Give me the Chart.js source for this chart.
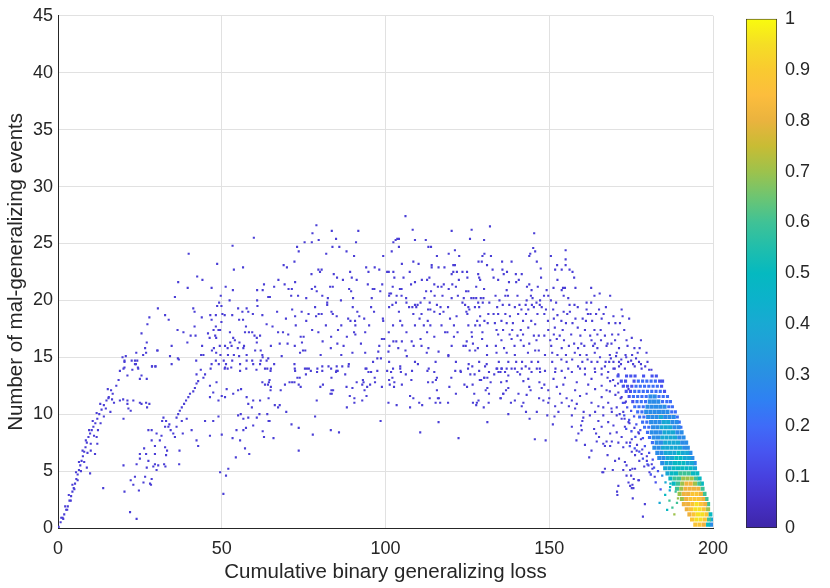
<!DOCTYPE html>
<html>
<head>
<meta charset="utf-8">
<script src="https://cdn.jsdelivr.net/npm/chart.js@4.4.1/dist/chart.umd.min.js"></script>
<style>
  html, body { margin: 0; padding: 0; background: #fff; }
  #wrap { position: relative; width: 830px; height: 588px; }
  #plot { position: absolute; left: 0; top: 0; }
  #cbar { position: absolute; left: 740px; top: 0; }
</style>
</head>
<body>
<div id="wrap">
  <canvas id="plot" width="830" height="588" style="width:830px;height:588px"></canvas>
  <canvas id="cbar" width="90" height="588" style="width:90px;height:588px"></canvas>
</div>
<script>
/* Density scatter: mal-generalizing events vs cumulative loss */

// eixos e textos
const xTickValues = [0, 50, 100, 150, 200];
const yTickValues = [0, 5, 10, 15, 20, 25, 30, 35, 40, 45];
const colorbarTicks = [0, 0.1, 0.2, 0.3, 0.4, 0.5, 0.6, 0.7, 0.8, 0.9, 1];
const xTitle = 'Cumulative binary generalizing loss';
const yTitle = 'Number of mal-generalizing events';

// density levels (0 = sparse dots ... 10 = densest)
const levelColors = ['#4a3ed6', '#4752ee', '#3d6ef8', '#2b8ce8', '#17a8d4', '#08b8c2',
                     '#3dc296', '#9dc24c', '#f0b23e', '#fbc434', '#f6e022'];
const colorbarStops = [0, 0.05, 0.1, 0.15, 0.2, 0.25, 0.3, 0.35, 0.4, 0.45, 0.5,
                       0.55, 0.6, 0.65, 0.7, 0.75, 0.8, 0.85, 0.9, 0.95, 1];
const colorbarColors = ['#3e26a8', '#4530c6', '#4741df', '#4755f0', '#3f6bf8', '#2f80f3',
                        '#2a8fe4', '#229dda', '#19a9d3', '#0cb2cb', '#05b9c0', '#20beac',
                        '#3fc296', '#6dc572', '#9dc24c', '#c8bc34', '#eab33e', '#fcbd3d',
                        '#f9ca30', '#f5de25', '#f9fb0e'];

// sparse dots, steep rise near the origin
const dotsRise = [
  [0.2,0.1],[0.8,0.5],[1.4,0.9],[1.9,1.2],[2.5,1.6],[3.0,1.9],[3.5,2.4],[4.0,2.8],[4.4,3.2],[4.8,3.5],
  [5.2,3.9],[5.6,4.3],[6.0,4.7],[6.4,5.1],[6.8,5.5],[7.2,5.9],[7.6,6.3],[8.0,6.7],[8.4,7.1],[8.8,7.5],
  [9.3,8.0],[9.8,8.3],[10.3,8.6],[10.8,8.9],[11.4,9.2],[12.0,9.6],[12.6,10.0],[13.3,10.4],[14.0,10.8],
  [14.8,11.2],[15.5,11.5],[1.0,0.9],[2.2,1.9],[3.3,2.9],[4.4,3.8],[5.5,4.9],[6.4,5.8],[7.5,6.8],[8.5,7.7],
  [9.5,8.6],[10.6,9.4],[11.8,10.1],[12.9,10.9],[1.6,0.8],[2.8,1.6],[3.9,2.4],[5.0,3.4],[6.0,4.2],[7.0,5.0],
  [8.0,5.8],[9.0,6.6],[10.0,7.4],[11.0,8.1],[12.2,8.6],[13.0,9.2],[9.8,4.8],[8.8,5.3],[11.3,6.5],[10.0,6.8],
  [12.0,7.4],[13.8,3.5],[11.8,8.0],[15.2,12.2],[16.2,12.1],[16.7,11.8],[15.4,11.4],[16.5,11.3],[17.1,11.0],
  [18.9,11.2],[19.9,11.3],[21.2,11.2],[23.0,11.2],[21.5,10.5],[21.2,10.9],[22.2,10.3],[20.0,9.6],[25.0,11.0],
  [25.5,10.9],[26.9,11.0],[27.9,10.9],[27.2,10.6],[14.0,9.8],[14.6,10.5],[16.0,10.2],[17.8,12.5],[18.5,13.0],
  [19.7,15.0],[20.3,14.6],[20.3,14.1],[21.2,13.4],[18.9,13.8],[22.5,14.7],[23.5,14.4],[24.4,14.1],[25.5,13.4],
  [25.0,13.1],[24.2,14.7],[26.9,15.4],[27.1,13.1],[28.7,14.2],[29.7,14.2],[30.3,15.6]
];

// sparse dots, x 20-66
const dotsLeft = [
  [59.8,25.5],[53.3,24.8],[39.9,24.1],[48.6,23.2],[53.7,22.7],[56.5,22.9],[42.5,22.1],[44.1,21.8],[36.7,21.6],
  [39.6,21.1],[46.9,21.1],[51.2,21.2],[62.9,21.4],[66.0,21.2],[53.4,20.9],[60.8,20.9],[62.5,20.9],[49.7,20.4],
  [64.2,20.3],[64.7,20.3],[35.7,20.3],[52.4,20.0],[60.8,20.0],[49.2,19.8],[48.6,19.5],[49.9,19.5],[60.9,19.5],
  [30.5,19.3],[41.3,19.3],[41.7,19.0],[50.2,18.8],[55.0,19.3],[56.3,19.0],[57.6,19.3],[58.1,19.0],[59.5,18.8],
  [46.5,18.7],[48.2,18.7],[50.9,18.7],[53.2,18.7],[62.4,18.7],[27.9,18.5],[32.7,18.7],[33.8,18.3],[43.9,18.5],
  [46.9,18.3],[55.3,18.3],[56.5,18.3],[49.9,18.1],[27.3,17.9],[63.7,17.9],[49.0,17.4],[41.7,17.7],[48.2,17.7],
  [47.5,17.4],[49.5,17.4],[36.5,17.4],[38.3,17.2],[52.5,17.2],[57.4,17.7],[57.1,17.2],[58.3,17.2],[59.3,17.2],
  [25.5,17.1],[45.8,17.1],[40.5,16.9],[42.0,16.9],[48.0,16.9],[60.0,16.9],[60.7,16.7],[61.7,16.9],[65.5,17.7],
  [46.3,16.7],[48.3,16.7],[53.5,16.7],[54.0,16.5],[52.6,16.3],[55.4,16.3],[39.5,16.3],[27.1,16.3],[60.7,16.3],
  [34.7,16.0],[44.0,16.0],[51.0,16.0],[49.4,16.0],[51.8,15.8],[53.0,16.0],[56.8,16.0],[54.9,15.8],[56.6,15.8],
  [65.0,16.0],[23.9,15.4],[26.6,15.8],[30.4,15.6],[47.6,15.8],[60.2,15.6],[61.9,15.6],[47.0,15.6],[43.7,15.2],
  [44.4,15.2],[48.3,15.4],[26.0,15.2],[34.2,15.1],[20.7,15.1],[36.6,14.9],[36.9,14.8],[49.6,15.2],[51.9,15.2],
  [53.7,15.2],[55.3,15.1],[57.6,15.2],[62.4,15.2],[64.2,14.9],[20.3,14.7],[23.5,14.7],[23.8,14.4],[34.7,14.4],
  [42.2,14.7],[48.2,14.7],[50.6,14.7],[53.2,14.7],[46.9,14.4],[49.1,14.4],[51.3,14.4],[55.6,14.4],[59.3,14.7],
  [61.9,14.7],[63.7,14.7],[66.0,14.4],[20.0,14.0],[22.7,13.9],[24.5,14.0],[28.7,14.2],[29.8,14.2],[43.6,13.9],
  [46.6,14.0],[50.9,14.0],[51.8,14.0],[57.5,14.0],[60.6,13.9],[63.2,14.0],
  [20.0,5.5],[20.3,3.2],[22.0,1.4],[24.0,0.8],[22.2,4.2],[23.5,4.5],[23.0,3.8],[24.7,3.3],[24.0,5.6],[25.0,6.1],
  [25.0,6.5],[26.3,7.0],[26.9,6.5],[27.6,5.9],[26.1,4.0],[26.6,4.5],[27.1,5.3],[28.1,3.9],[28.4,3.8],[28.6,4.3],
  [29.1,5.4],[29.6,6.5],[29.6,5.6],[30.1,5.1],[30.6,5.5],[29.6,7.2],[28.6,7.7],[30.1,8.3],[28.6,8.6],[27.6,8.6],
  [31.1,7.7],[31.6,8.1],[32.7,8.9],[31.8,9.4],[32.2,9.7],[33.0,9.4],[32.7,7.1],[33.0,6.4],[33.3,6.8],[32.8,5.4],
  [32.4,5.6],[35.7,8.0],[34.4,8.6],[35.2,8.3],[33.7,8.9],[34.0,9.1],[36.2,9.7],[36.7,10.0],[37.2,10.3],[37.8,10.6],
  [38.5,10.9],[39.1,11.2],[39.8,11.5],[40.3,11.8],[41.3,12.0],[41.8,12.3],[42.3,12.7],[42.8,12.9],[44.4,13.2],
  [44.9,13.5],[42.3,13.5],[37.0,5.6],[37.1,6.8],[36.2,8.9],[37.8,9.4],[38.1,8.3],[39.3,9.6],[40.8,8.6],[42.3,7.7],
  [42.8,7.2],[44.9,9.4],[46.4,8.1],[47.4,9.4],[49.0,9.8],[50.0,8.2],[49.5,4.9],[51.3,4.6],[50.5,3.0],[52.0,5.2],
  [53.3,7.9],[54.5,8.6],[55.6,7.7],[56.6,8.6],[58.4,6.5],[57.1,7.0],[54.3,6.2],[55.0,9.9],[55.8,10.0],[56.6,9.6],
  [57.4,8.8],[58.1,9.7],[59.2,10.6],[59.6,9.0],[60.7,9.7],[61.5,10.0],[62.5,8.5],[62.9,8.0],[64.3,9.4],[49.0,11.2],
  [50.0,11.6],[47.4,11.9],[46.4,11.5],[51.0,11.5],[51.5,12.2],[53.5,11.8],[55.0,12.1],[55.9,12.2],[57.6,11.5],
  [58.1,10.9],[59.6,11.2],[61.7,11.2],[62.4,12.8],[64.1,12.6],[46.4,12.5],[48.4,12.8],[51.0,14.1],[52.9,14.1],
  [55.6,13.8],[57.6,14.7],[59.6,14.4],[61.7,14.4],[62.5,15.0],[63.9,14.0]
];

// sparse dots, x 63-136
const dotsMiddle = [
  [106.1,27.4],[78.9,26.6],[77.7,25.9],[83.6,26.1],[91.7,26.1],[108.3,26.2],[120.2,26.1],[126.3,26.2],[131.9,26.5],
  [75.3,25.1],[77.5,25.1],[79.6,25.3],[84.9,25.4],[91.0,25.1],[102.4,25.1],[103.1,25.3],[103.6,25.4],[104.1,25.4],
  [109.0,25.3],[112.3,25.3],[125.8,25.4],[130.1,25.3],[73.0,24.7],[83.8,24.7],[85.9,24.7],[104.1,24.7],[113.1,24.7],
  [113.9,24.7],[73.5,24.3],[88.1,24.3],[101.9,24.3],[121.2,24.4],[81.9,24.1],[90.4,23.9],[99.3,23.9],[115.7,23.9],
  [119.3,24.1],[122.5,23.9],[129.6,23.9],[130.2,24.1],[132.2,23.9],[72.2,23.4],[108.5,23.4],[128.4,23.4],[129.4,23.4],
  [68.9,23.1],[69.9,22.9],[131.0,23.1],[105.0,23.2],[110.1,23.2],[114.1,23.1],[114.1,22.9],[116.2,22.9],[118.0,22.9],
  [120.7,23.1],[121.2,23.1],[79.5,22.7],[80.5,22.7],[94.1,22.9],[96.7,22.9],[98.1,22.7],[132.7,22.7],[77.4,22.3],
  [80.0,22.5],[84.2,22.3],[85.2,22.0],[89.2,22.5],[94.8,22.5],[100.5,22.5],[101.0,22.5],[102.4,22.5],[107.4,22.5],
  [113.4,22.0],[120.2,22.3],[120.7,22.5],[121.8,22.5],[123.5,22.5],[124.9,22.5],[128.3,22.3],[128.6,22.0],[133.0,22.0],
  [67.3,21.8],[72.4,21.6],[87.0,21.8],[89.7,22.0],[91.2,21.8],[102.7,22.0],[105.5,22.0],[109.0,21.6],[111.1,21.8],
  [112.7,21.8],[114.9,21.4],[117.8,21.4],[122.4,21.8],[125.0,22.0],[128.9,21.8],[69.2,21.4],[83.1,21.2],[83.9,21.2],
  [88.9,21.0],[94.6,21.4],[99.0,21.4],[102.2,21.2],[107.8,21.4],[116.0,21.2],[117.1,21.2],[120.4,21.4],[121.5,21.2],
  [127.7,21.2],[70.4,21.0],[71.4,21.0],[77.5,21.0],[78.5,21.2],[96.1,21.0],[96.6,21.0],[104.4,21.0],[104.9,21.0],
  [119.3,21.0],[125.3,20.8],[130.1,21.0],[79.0,20.8],[89.5,20.8],[98.4,20.8],[101.2,20.6],[101.7,20.6],[112.4,20.8],
  [113.9,20.8],[124.6,20.8],[71.2,20.4],[73.3,20.4],[75.8,20.2],[80.7,20.4],[82.4,20.2],[90.1,20.2],[95.8,20.2],
  [101.1,20.4],[103.4,20.4],[104.9,20.4],[106.3,20.2],[111.9,20.2],[115.0,20.4],[117.4,20.4],[120.2,20.2],[122.1,20.4],
  [123.9,20.2],[126.2,20.2],[126.9,20.2],[127.7,20.2],[129.1,20.2],[129.9,20.2],[86.4,20.0],[82.2,19.8],[82.2,19.6],
  [102.1,19.6],[103.2,19.8],[106.4,19.8],[109.0,19.6],[109.8,19.6],[110.7,19.8],[113.5,19.8],[115.7,19.6],[123.5,19.8],
  [124.3,19.6],[128.3,19.8],[129.7,19.8],[131.7,19.8],[78.5,19.4],[90.0,19.4],[95.6,19.4],[101.1,19.4],[107.2,19.4],
  [108.2,19.4],[109.4,19.4],[116.8,19.4],[119.1,19.4],[125.3,19.4],[127.3,19.4],[128.6,19.4],[71.5,19.2],[74.4,19.0],
  [91.4,19.0],[96.5,19.0],[113.0,19.2],[113.7,19.2],[114.9,19.0],[117.7,19.0],[124.7,19.0],[125.6,19.2],[66.9,19.0],
  [76.5,18.8],[83.5,19.0],[83.9,18.8],[78.8,18.6],[79.6,18.8],[80.5,18.8],[85.1,18.6],[88.6,18.4],[90.7,18.2],
  [92.0,18.6],[93.5,18.4],[99.2,18.4],[104.1,19.0],[108.5,18.8],[111.0,18.8],[116.6,18.8],[119.7,18.4],[121.7,18.6],
  [125.0,18.8],[128.9,18.6],[131.4,18.8],[133.0,18.8],[72.4,18.6],[69.6,18.4],[75.8,18.2],[89.3,18.2],[99.3,18.2],
  [104.5,18.2],[110.4,18.4],[112.9,18.2],[128.0,18.2],[130.2,18.2],[131.2,18.0],[72.6,17.8],[81.8,17.8],[86.5,17.8],
  [90.8,17.8],[95.0,17.8],[102.3,17.8],[105.1,17.8],[109.0,17.8],[111.7,17.8],[113.7,17.8],[117.1,17.8],[120.9,17.8],
  [125.3,17.8],[127.4,17.8],[128.8,17.8],[133.4,18.0],[67.2,17.2],[68.7,17.2],[77.6,17.4],[79.5,17.2],[85.5,17.4],
  [90.4,17.2],[90.8,17.0],[93.8,17.2],[101.0,17.2],[106.4,17.2],[112.7,17.2],[118.2,17.2],[118.9,17.2],[122.0,17.2],
  [126.3,17.2],[129.6,17.2],[70.3,17.0],[74.1,16.8],[75.0,16.8],[83.4,16.8],[88.2,16.8],[98.9,16.6],[99.6,16.6],
  [102.4,16.4],[103.3,16.4],[105.0,16.4],[108.0,16.4],[110.7,16.6],[114.9,16.8],[120.9,16.8],[124.8,16.4],[126.4,16.8],
  [129.5,16.6],[67.7,16.2],[70.1,16.2],[72.3,16.0],[74.5,16.3],[80.8,16.4],[85.3,16.2],[87.2,16.0],[92.5,16.2],
  [98.1,16.0],[101.2,16.0],[103.9,15.8],[108.6,16.0],[111.0,16.0],[113.1,15.8],[120.2,16.0],[123.8,16.0],[124.5,16.0],
  [126.7,16.2],[128.2,15.8],[131.0,16.0],[73.9,15.4],[74.8,15.6],[75.5,15.6],[83.3,15.8],[89.9,15.4],[93.8,15.4],
  [97.8,15.5],[100.9,15.5],[106.1,15.6],[112.6,15.4],[116.2,15.5],[119.2,15.2],[125.7,15.6],[127.4,15.6],[131.0,15.2],
  [68.3,15.1],[80.2,15.2],[86.5,15.2],[96.2,14.6],[97.5,14.9],[98.6,14.9],[106.5,15.1],[109.0,14.6],[72.2,14.4],
  [76.0,14.0],[80.7,14.2],[85.1,14.2],[88.8,14.4],[94.2,14.0],[101.1,14.6],[104.5,14.2],[109.9,14.4],[115.3,14.6],
  [119.2,15.1],[121.5,14.6],[125.4,14.4],[128.6,14.6],[130.9,14.4],
  [65.0,14.0],[64.9,13.8],[72.3,14.0],[72.4,13.8],[75.4,14.0],[76.6,14.0],[77.2,13.8],[79.2,14.0],[79.1,13.7],
  [80.7,13.8],[82.6,14.2],[83.4,14.0],[85.0,13.8],[85.4,13.8],[84.9,13.7],[86.8,14.2],[88.7,14.2],[93.9,14.0],
  [94.8,13.7],[95.6,13.7],[97.5,13.8],[100.5,13.8],[102.3,14.0],[104.5,14.0],[104.7,13.7],[108.1,13.8],[112.8,13.8],
  [113.2,14.0],[114.9,13.7],[121.3,13.8],[122.9,13.8],[123.0,13.7],[125.2,14.0],[126.5,14.2],[128.6,13.8],[130.4,14.2],
  [131.6,13.7],[134.1,14.0],[135.1,13.7],[75.7,13.5],[83.5,13.2],[87.7,13.5],[96.7,13.2],[101.7,13.7],[106.2,13.5],
  [115.7,13.2],[120.1,13.2],[125.9,13.5],[127.2,13.5],[130.1,13.2],[131.1,13.2],[133.2,13.5],[64.6,13.0],[70.7,12.8],
  [71.5,12.8],[72.2,12.8],[73.1,13.2],[73.8,13.2],[73.5,12.6],[74.1,12.4],[80.1,12.4],[80.9,12.6],[91.2,12.8],
  [93.1,13.0],[93.3,12.8],[92.9,12.6],[95.3,12.6],[94.4,12.4],[96.8,12.8],[98.9,12.4],[101.1,13.0],[102.7,12.8],
  [102.1,13.2],[101.3,12.6],[102.6,12.4],[105.0,12.6],[107.9,13.0],[113.0,12.8],[114.4,12.8],[115.4,13.0],[119.5,12.4],
  [124.1,12.6],[124.9,12.4],[126.6,12.6],[128.8,13.0],[129.2,13.0],[130.2,13.2],[132.1,12.8],[135.3,12.8],[64.4,12.8],
  [63.2,12.6],[69.3,12.6],[65.0,12.4],[68.0,12.1],[64.9,12.1],[83.5,12.1],[84.0,12.1],[83.2,11.8],[83.6,11.8],
  [88.1,12.4],[89.9,12.3],[90.5,11.4],[89.1,11.6],[90.5,11.0],[88.2,10.6],[93.6,12.1],[94.2,11.6],[92.9,11.2],
  [64.3,11.4],[66.2,10.8],[67.7,10.8],[67.2,10.6],[69.7,10.2],[63.9,10.0],[79.0,11.2],[78.5,9.8],[64.6,9.4],
  [71.3,9.1],[73.5,8.8],[65.8,7.9],[77.8,8.2],[83.3,8.6],[85.8,8.4],[73.5,6.8],[98.5,9.4],[100.9,11.0],[103.4,10.8],
  [107.5,11.6],[108.5,11.4],[107.5,10.6],[110.3,11.0],[111.2,10.8],[113.5,11.4],[115.3,11.0],[116.0,11.4],[116.3,11.4],
  [116.7,11.0],[119.1,11.0],[115.7,12.1],[121.5,11.8],[127.1,11.8],[126.7,11.0],[127.9,11.0],[127.7,10.8],[128.4,11.2],
  [130.0,10.6],[131.5,11.0],[130.6,12.1],[131.6,11.8],[131.1,12.3],[135.1,11.4],[135.9,11.8],[116.2,9.3],[110.6,8.4],
  [122.3,7.9],[131.1,9.3]
];

// sparse dots, x 133-183
const dotsRight = [
  [145.4,25.9],[145.1,24.6],[145.7,24.3],[144.2,24.1],[143.9,23.9],[155.0,24.4],[150.5,23.9],[155.0,23.6],[146.2,23.4],
  [135.6,23.4],[138.5,23.4],[155.0,23.1],[152.4,23.1],[147.4,22.8],[153.8,22.7],[151.8,22.7],[156.2,22.7],[157.1,22.5],
  [135.7,22.7],[137.1,22.5],[136.1,22.3],[139.8,22.3],[141.6,22.3],[134.4,21.8],[140.7,21.8],[147.5,22.0],[157.6,22.0],
  [152.5,21.8],[137.7,21.6],[139.9,21.6],[143.9,21.4],[143.2,21.2],[146.5,21.2],[151.3,21.1],[154.2,21.1],[154.8,21.1],
  [158.0,21.1],[162.8,21.1],[144.6,20.9],[149.2,20.9],[137.0,20.9],[153.8,20.9],[136.6,20.4],[137.4,20.4],[140.3,20.4],
  [144.4,20.4],[144.9,20.2],[148.4,20.4],[149.7,20.4],[154.4,20.4],[155.8,20.2],[163.8,20.4],[165.4,20.6],[168.6,20.4],
  [133.6,20.4],[134.8,20.0],[143.1,20.0],[147.2,20.0],[150.5,20.0],[146.1,19.8],[152.1,19.8],[135.8,19.6],[137.8,19.6],
  [140.9,19.6],[142.8,19.6],[144.7,19.6],[147.1,19.6],[156.2,19.6],[157.7,19.6],[158.7,19.4],[161.4,19.8],[162.8,19.8],
  [167.3,19.4],[134.1,19.4],[139.5,19.4],[141.5,19.2],[143.6,19.2],[145.3,19.4],[147.7,19.4],[149.0,19.2],[151.2,19.2],
  [154.4,19.0],[156.3,19.0],[161.4,19.2],[165.2,19.2],[172.1,19.2],[134.4,18.8],[136.6,18.8],[138.0,18.6],[140.5,18.8],
  [142.9,18.8],[146.4,18.8],[148.5,18.8],[152.5,18.7],[155.5,18.8],[158.0,18.4],[160.2,18.4],[161.8,18.8],[162.6,18.8],
  [164.3,18.8],[166.6,18.8],[169.6,18.6],[172.4,18.6],[174.4,18.4],[135.4,18.2],[137.0,18.0],[138.9,18.0],[142.0,18.2],
  [144.5,18.2],[145.7,17.9],[149.6,18.2],[151.4,18.4],[153.7,18.2],[155.1,18.0],[157.1,18.0],[161.2,18.2],[163.1,18.2],
  [166.0,18.4],[168.2,18.0],[170.2,18.0],[171.6,18.0],[133.9,17.4],[135.9,17.4],[138.7,17.4],[141.3,17.4],[143.6,17.6],
  [149.7,17.4],[151.7,17.6],[154.1,17.4],[158.7,17.6],[160.9,17.4],[163.8,17.4],[165.7,17.4],[172.9,17.4],[134.4,17.0],
  [137.9,17.0],[140.3,16.9],[142.0,17.0],[145.3,16.9],[146.8,16.9],[148.5,16.9],[151.4,17.0],[153.2,16.9],[156.7,17.0],
  [159.5,16.9],[162.5,16.9],[164.7,17.0],[167.0,16.9],[169.2,17.0],[171.1,17.0],[135.4,16.5],[138.5,16.6],[141.3,16.5],
  [143.9,16.2],[146.1,16.5],[150.3,16.5],[152.3,16.6],[154.5,16.5],[157.6,16.2],[159.8,16.2],[162.9,16.5],[163.9,16.2],
  [165.8,16.5],[167.8,16.2],[170.1,16.5],[173.6,16.5],[175.2,16.7],[178.0,16.5],[133.7,16.0],[136.2,15.8],[139.4,16.0],
  [142.2,16.0],[145.7,15.6],[146.8,15.6],[150.6,16.0],[153.8,15.8],[156.0,16.0],[158.8,15.8],[160.7,16.0],[163.4,16.0],
  [164.7,15.8],[167.5,16.0],[169.0,16.2],[171.3,15.8],[173.9,16.0],[176.0,15.8],[177.6,15.8],[179.7,15.4],[133.9,15.4],
  [137.0,15.4],[139.5,15.2],[143.5,15.4],[148.7,15.2],[150.9,15.4],[152.5,15.2],[155.1,15.2],[157.8,15.4],[159.4,15.2],
  [161.4,15.2],[163.9,15.4],[168.5,15.2],[170.6,15.4],[173.3,15.2],[175.3,15.2],[177.0,15.4],[134.6,14.6],[137.5,14.6],
  [139.9,14.6],[141.7,14.6],[144.6,14.6],[146.6,14.6],[150.9,14.6],[153.7,14.8],[155.3,14.6],[157.0,14.8],[160.1,14.6],
  [161.7,14.8],[162.9,14.6],[164.7,14.6],[168.3,14.6],[169.6,14.6],[171.3,14.6],[171.9,14.4],[174.1,14.6],[175.6,14.4],
  [177.4,14.6],[180.0,14.6],[135.4,14.0],[138.5,14.0],[142.8,14.2],[143.9,14.0],[147.1,14.0],[151.9,14.0],[155.8,14.0],
  [158.8,14.2],[160.9,14.0],[163.9,14.0],[167.0,14.2],[170.0,14.0],[171.3,14.2],[173.1,14.0],[176.1,14.2],[178.2,14.0],
  [181.2,13.9],
  [133.9,14.0],[135.5,14.0],[137.0,14.0],[134.5,13.7],[136.5,13.7],[137.5,13.4],[137.0,12.9],[137.5,12.3],[136.8,12.1],
  [136.0,11.8],[135.2,11.4],[138.3,11.0],[139.5,14.0],[140.3,13.7],[141.6,14.0],[141.1,13.5],[142.1,12.9],[143.6,13.1],
  [143.9,12.4],[144.3,12.1],[143.1,11.7],[142.1,11.0],[141.6,10.7],[140.6,11.8],[139.5,11.2],[137.5,10.0],[142.9,10.2],
  [144.0,9.6],[146.2,10.2],[145.6,7.8],[148.9,7.7],[144.6,13.7],[146.2,14.0],[147.2,13.7],[148.7,13.8],[147.0,12.8],
  [148.5,12.6],[147.7,12.3],[149.7,12.1],[146.9,11.4],[148.2,11.2],[150.0,11.4],[149.7,11.0],[149.4,9.9],[151.6,9.8],
  [151.1,9.1],[151.3,13.1],[151.8,13.7],[153.8,13.8],[154.8,13.2],[154.3,12.6],[152.3,12.4],[153.3,11.8],[155.3,11.4],
  [153.8,11.0],[152.8,10.2],[151.8,10.7],[156.9,11.2],[156.0,10.7],[157.9,10.5],[156.9,9.9],[156.9,8.9],[158.3,7.7],
  [159.7,9.0],[160.1,9.4],[159.9,8.6],[158.9,8.3],[160.9,7.3],[160.4,9.7],[160.5,10.2],[158.4,10.9],[159.4,11.6],
  [157.9,12.1],[158.4,12.8],[156.9,13.7],[159.4,14.0],[160.9,13.5],[161.9,12.6],[161.4,11.8],[162.9,11.0],[162.4,9.9],
  [164.0,10.2],[163.7,8.7],[164.3,8.3],[162.9,6.8],[162.2,6.2],[164.5,7.6],[166.0,8.9],[165.2,8.0],[166.5,7.4],
  [167.0,7.2],[167.5,7.6],[168.6,7.2],[169.1,7.6],[167.8,6.4],[170.1,5.9],[171.3,6.1],[167.0,5.2],[166.2,4.9],
  [169.4,5.1],[173.1,5.8],[173.6,5.5],[174.7,5.1],[175.4,5.2],[176.2,5.2],[175.0,4.6],[175.8,4.3],[177.4,4.2],
  [174.2,4.0],[175.4,3.8],[175.2,3.5],[175.7,3.5],[171.1,3.7],[170.7,3.2],[175.5,2.6],[179.2,2.1],[178.6,1.0],
  [165.0,9.4],[166.5,9.9],[168.0,9.3],[169.6,9.0],[170.6,8.4],[168.6,8.3],[172.1,8.0],[171.1,7.5],[172.6,7.1],
  [173.6,7.5],[174.7,7.5],[175.2,6.7],[176.2,6.4],[176.7,6.8],[178.2,6.5],[179.8,5.9],[181.3,5.6],[180.3,5.5],
  [181.5,5.2],[177.2,8.4],[178.0,7.8],[165.0,10.7],[166.5,10.6],[166.0,11.5],[168.0,11.0],[169.1,10.2],[170.6,10.6],
  [170.6,9.9],[172.1,9.6],[172.6,10.2],[174.2,9.3],[173.1,8.9],[164.0,12.2],[166.0,12.5],[167.5,12.1],[168.6,12.9],
  [170.1,12.5],[171.1,11.9],[172.1,11.5],[173.1,11.0],[164.0,13.7],[166.0,14.0],[168.0,13.7],[169.6,14.0],[171.1,13.5],
  [162.9,13.1],[165.5,15.0],[167.2,14.6],[168.8,14.9],[170.4,15.1],[172.0,14.8],[173.5,15.0],[175.0,14.7],[176.5,14.9],
  [178.0,14.4],[179.3,14.2],[180.5,13.9],[166.0,13.5],[167.8,13.2],[169.5,13.0],[171.0,12.7],[172.8,12.5],[174.2,12.2],
  [168.5,12.0],[170.2,11.7],[171.8,11.4],[173.4,11.1],[169.0,10.5],[171.5,10.0],[173.0,9.6],[174.5,9.2],[176.0,8.8],
  [177.4,8.3],[175.2,7.8],[176.8,7.3],[178.4,6.9],[179.8,6.3],[177.5,5.9],[179.0,5.4],[180.6,4.9],[182.2,4.5],
  [172.6,5.1],[173.6,4.6],[177.2,4.2],[174.7,3.7],[170.8,2.9],[166.5,4.9]
];

// blue dots left of the dense band
const dotsBandEdge = [
  [172.5,11.0],[173.8,10.6],[175.0,10.3],[172.9,9.9],[174.4,9.5],[175.9,9.8],[176.6,9.1],[173.5,8.7],[175.1,8.5],
  [176.3,8.0],[177.8,8.6],[178.6,7.9],[174.6,7.2],[176.1,7.0],[177.5,6.7],[179.2,7.2],[180.5,6.6],[181.6,6.0],
  [178.6,6.1],[180.0,5.6],[182.0,5.3],[183.2,5.0],[181.0,4.7],[182.5,4.0],[184.0,3.4]
];

// coloured outliers under the band: [x, y, level]
const dotsLowEdge = [
  [184.5,4.6,3],[185.5,4.0,4],[186.8,3.3,4],[185.4,2.9,5],[186.7,2.4,6],[187.6,1.8,6],[188.2,1.2,7],
  [186.0,1.6,5],[187.0,3.9,5],[188.6,3.2,6],[189.3,2.6,7],[183.7,2.2,4],[189.0,2.2,6],[186.9,3.6,5]
];

// dense band, one array per density level
const band1 = [
  [171.0,13.35],[173.6,13.35],[174.9,13.35],[176.2,13.35],[178.8,13.35],[181.4,13.35],[182.7,13.35],
  [172.0,12.9],[173.3,12.9],[175.9,12.9],[183.7,12.9],[184.6,12.9],
  [172.6,12.45],[173.9,12.45],[175.2,12.45],[184.3,12.45],
  [173.5,12.0],[174.8,12.0],[185.2,12.0],[174.4,11.55],[175.5,11.1]
];
const band2 = [
  [177.2,12.9],[178.5,12.9],[179.8,12.9],[181.1,12.9],[182.4,12.9],
  [176.5,12.45],[177.8,12.45],[179.1,12.45],[180.4,12.45],[181.7,12.45],[183.0,12.45],
  [176.1,12.0],[177.4,12.0],[178.7,12.0],[180.0,12.0],[181.3,12.0],[182.6,12.0],[183.9,12.0],
  [175.7,11.55],[177.0,11.55],[178.3,11.55],[179.6,11.55],[183.5,11.55],[184.8,11.55],[186.1,11.55],
  [176.8,11.1],[178.1,11.1],[179.4,11.1],[184.6,11.1],[185.9,11.1],[187.0,11.1],
  [176.1,10.65],[177.4,10.65],[178.7,10.65],[186.5,10.65],[187.6,10.65],
  [177.0,10.2],[178.3,10.2],[187.4,10.2],[188.5,10.2],
  [177.6,9.75],[178.9,9.75],[189.1,9.75],[178.5,9.3],[179.8,9.3],[189.7,9.3],
  [179.1,8.85],[180.4,8.85],[190.2,8.85],[180.0,8.4],[180.6,7.95],[181.5,7.5]
];
const band3 = [
  [180.9,11.55],[182.2,11.55],[180.7,11.1],[182.0,11.1],[183.3,11.1],
  [180.0,10.65],[181.3,10.65],[182.6,10.65],[183.9,10.65],[185.2,10.65],
  [179.6,10.2],[180.9,10.2],[182.2,10.2],[183.5,10.2],[184.8,10.2],[186.1,10.2],
  [180.2,9.75],[181.5,9.75],[182.8,9.75],[185.4,9.75],[186.7,9.75],[188.0,9.75],
  [181.1,9.3],[182.4,9.3],[183.7,9.3],[187.6,9.3],[188.9,9.3],
  [181.7,8.85],[183.0,8.85],[188.2,8.85],[189.5,8.85],
  [181.3,8.4],[182.6,8.4],[183.9,8.4],[189.1,8.4],[190.4,8.4],
  [181.9,7.95],[183.2,7.95],[189.7,7.95],[191.0,7.95],
  [182.8,7.5],[184.1,7.5],[190.6,7.5],[191.8,7.5],
  [182.1,7.05],[183.4,7.05],[191.2,7.05],[192.3,7.05],
  [183.0,6.6],[184.3,6.6],[193.1,6.6],[183.6,6.15],[184.9,6.15],[193.7,6.15],
  [184.5,5.7],[194.4,5.7],[199.6,0.3]
];
const band4 = [
  [184.1,9.75],[185.0,9.3],[186.3,9.3],[184.3,8.85],[185.6,8.85],[186.9,8.85],
  [185.2,8.4],[186.5,8.4],[187.8,8.4],[184.5,7.95],[185.8,7.95],[187.1,7.95],[188.4,7.95],
  [185.4,7.5],[186.7,7.5],[188.0,7.5],[189.3,7.5],
  [184.7,7.05],[186.0,7.05],[187.3,7.05],[188.6,7.05],[189.9,7.05],
  [185.6,6.6],[186.9,6.6],[188.2,6.6],[190.8,6.6],[192.1,6.6],
  [186.2,6.15],[187.5,6.15],[191.4,6.15],[192.7,6.15],
  [185.8,5.7],[187.1,5.7],[192.3,5.7],[193.6,5.7],
  [185.4,5.25],[186.7,5.25],[194.5,5.25],[186.1,4.8],[199.8,0.75]
];
const band5 = [
  [189.5,6.6],[188.8,6.15],[190.1,6.15],[188.4,5.7],[189.7,5.7],[191.0,5.7],
  [188.0,5.25],[189.3,5.25],[190.6,5.25],[191.9,5.25],[193.2,5.25],
  [187.4,4.8],[188.7,4.8],[193.9,4.8],[195.2,4.8],
  [187.0,4.35],[195.9,4.35],[188.0,3.9],[196.6,3.9],[199.2,1.2],[198.5,0.3]
];
const band6 = [
  [190.0,4.8],[191.3,4.8],[192.6,4.8],[188.3,4.35],[189.6,4.35],[194.8,4.35],
  [189.3,3.9],[195.8,3.9],[189.0,3.45],[196.8,3.45],
  [197.4,3.0],[198.0,2.55],[198.5,2.1],[198.8,0.75]
];
const band7 = [
  [190.9,4.35],[192.2,4.35],[193.5,4.35],[190.6,3.9],[194.5,3.9],[190.3,3.45],
  [189.8,3.0],[190.5,2.55],[198.5,1.65]
];
const band8 = [
  [191.9,3.9],[193.2,3.9],[191.6,3.45],[192.9,3.45],[194.2,3.45],[195.5,3.45],
  [191.1,3.0],[192.4,3.0],[196.3,3.0],[191.8,2.55],[197.0,2.55],
  [191.1,2.1],[192.4,2.1],[197.6,2.1],[192.0,1.65],[192.8,1.2],[197.2,0.3]
];
const band9 = [
  [193.7,3.0],[195.0,3.0],[193.1,2.55],[194.4,2.55],[195.7,2.55],[193.7,2.1],[196.3,2.1],
  [193.3,1.65],[197.2,1.65],[194.1,1.2],[198.0,1.2],[193.6,0.75],[197.5,0.75],[194.6,0.3],[195.9,0.3]
];
const band10 = [
  [195.0,2.1],[194.6,1.65],[195.9,1.65],[195.4,1.2],[196.7,1.2],[194.9,0.75],[196.2,0.75]
];

const FONT = '"Liberation Sans", Arial, Helvetica, sans-serif';
const INK = '#262626';
const GRID = '#e1e1e1';

function toXY(list) {
  return list.map(p => ({ x: p[0], y: p[1] }));
}

function dotSet(list, level, radius, order) {
  return {
    data: toXY(list),
    backgroundColor: levelColors[level],
    borderWidth: 0,
    pointStyle: 'rect',
    pointRadius: radius,
    pointHoverRadius: radius,
    order: order
  };
}

function montarDatasets() {
  const sets = [];
  const sparse = [].concat(dotsRise, dotsLeft, dotsMiddle, dotsRight);
  sets.push(dotSet(sparse, 0, 1.5, 100));
  sets.push(dotSet(dotsBandEdge, 1, 1.6, 90));
  const bands = [band1, band2, band3, band4, band5, band6, band7, band8, band9, band10];
  // the two lowest levels are speckled in the reference, so smaller squares
  bands.forEach((b, i) => sets.push(dotSet(b, i + 1, i < 2 ? 2.2 : 2.9, 80 - i)));
  for (let lv = 1; lv <= 10; lv++) {
    const pts = dotsLowEdge.filter(p => p[2] === lv);
    if (pts.length) sets.push(dotSet(pts, lv, 1.6, 85));
  }
  return sets;
}

function initGrafico() {
  new Chart(document.getElementById('plot'), {
    type: 'scatter',
    data: { datasets: montarDatasets() },
    options: {
      responsive: false,
      animation: false,
      events: [],
      layout: { padding: { top: 13, right: 117, left: 0, bottom: 0 } },
      plugins: { legend: { display: false }, tooltip: { enabled: false } },
      scales: {
        x: {
          type: 'linear', min: 0, max: 200,
          afterBuildTicks: s => { s.ticks = xTickValues.map(v => ({ value: v })); },
          afterFit: s => { s.height = 60; },
          ticks: { color: INK, font: { family: FONT, size: 18 }, padding: 10, maxRotation: 0 },
          grid: { color: GRID, lineWidth: 1, drawTicks: false },
          border: { display: true, color: INK, width: 1 },
          title: { display: true, text: xTitle, color: INK,
                   font: { family: FONT, size: 20.5 }, padding: { top: 0, bottom: 3 } }
        },
        y: {
          type: 'linear', min: 0, max: 45,
          afterBuildTicks: s => { s.ticks = yTickValues.map(v => ({ value: v })); },
          afterFit: s => { s.width = 58; },
          ticks: { color: INK, font: { family: FONT, size: 18 }, padding: 5 },
          grid: { color: GRID, lineWidth: 1, drawTicks: false },
          border: { display: true, color: INK, width: 1 },
          title: { display: true, text: yTitle, color: INK,
                   font: { family: FONT, size: 20.5 }, padding: { top: 4, bottom: 0 } }
        }
      }
    }
  });
}

function initColorbar() {
  new Chart(document.getElementById('cbar'), {
    type: 'bar',
    data: {
      labels: ['density'],
      datasets: [{
        data: [[0, 1]],
        backgroundColor: ctx => {
          const area = ctx.chart.chartArea;
          if (!area) return colorbarColors[0];
          const g = ctx.chart.ctx.createLinearGradient(0, area.bottom, 0, area.top);
          colorbarStops.forEach((s, i) => g.addColorStop(s, colorbarColors[i]));
          return g;
        },
        borderColor: INK,
        borderWidth: 1,
        borderSkipped: false,
        barPercentage: 1,
        categoryPercentage: 1
      }]
    },
    options: {
      responsive: false,
      animation: false,
      events: [],
      layout: { padding: { top: 12, right: 0, left: 6, bottom: 60 } },
      plugins: { legend: { display: false }, tooltip: { enabled: false } },
      scales: {
        x: { display: false },
        y: {
          position: 'right', min: 0, max: 1,
          afterBuildTicks: s => { s.ticks = colorbarTicks.map(v => ({ value: v })); },
          afterFit: s => { s.width = 53; },
          ticks: { color: INK, font: { family: FONT, size: 18 }, padding: 8,
                   callback: v => String(Math.round(v * 10) / 10) },
          grid: { display: false, drawTicks: false },
          border: { display: false }
        }
      }
    }
  });
}

initGrafico();
initColorbar();
</script>
</body>
</html>
